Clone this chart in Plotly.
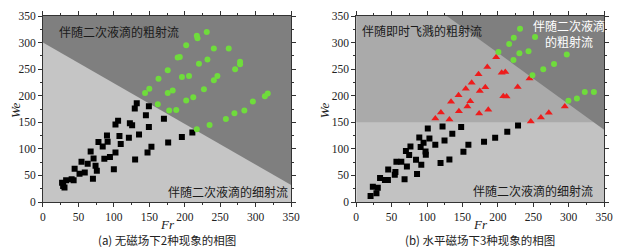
import plotly.graph_objects as go

# ---------------- data ----------------
# (a) no magnetic field
a_fine_fr = [27, 28.5, 30.4, 32.7, 40.5, 43.3, 44.7, 51.6, 54.4, 59, 63.1, 67.3, 70.5, 71.4, 74.2, 76,
             78.3, 84.3, 86.6, 90.3, 91.2, 94.5, 100, 102.3, 102.3, 106, 107.9, 109.7, 121.2, 122.6,
             125.8, 130, 129.5, 132.3, 135.5, 145.2, 147.5, 149.4, 149.4, 153, 170.6, 176.6, 195.9, 210.7]
a_fine_we = [36.3, 30, 27.5, 40.7, 42.6, 40.7, 62.6, 53.2, 75.8, 55.7, 72, 95.2, 43.8, 82, 68.2, 58.8,
             112.7, 104.6, 81.4, 125.2, 113.3, 84.5, 61.4, 93.3, 145.9, 152.8, 124, 109, 120.8, 148.4,
             144.6, 80.1, 175.9, 186, 127.1, 163.4, 93.3, 180.3, 140.9, 103.9, 156.5, 112.1, 122.1, 130.9]
a_coarse_fr = [144, 150, 163, 162, 176, 176, 183, 178, 188, 190, 193, 196, 202, 206, 202, 212, 217, 217,
               218, 220, 227, 231, 232, 235, 241, 246, 241, 258, 262, 270, 271, 278, 278, 284, 296, 313, 317]
a_coarse_we = [205, 213, 232, 184, 248, 205, 210, 172, 173, 272, 273, 235, 295, 237, 191, 197, 137, 313,
               308, 260, 212, 320, 268, 145, 229, 237, 289, 156, 289, 167, 250, 264, 259, 172, 189, 199, 204]

# (b) horizontal magnetic field
b_fine_fr = [20.3, 23.5, 28.6, 30.5, 33.7, 40.6, 44.8, 45.2, 54.5, 55.4, 56.8, 63.7, 68.3, 70.2, 71.6,
             74.8, 76.6, 84.5, 85.9, 89.1, 91, 91.9, 95.1, 97.9, 98.3, 101.1, 103.4, 111.7, 119.1, 121.9,
             124.7, 131.6, 135.7, 148.2, 151.4, 158.4, 180.5, 196.2, 213.3, 228.5]
b_fine_we = [11.3, 28.8, 16.3, 26.9, 45.1, 41.3, 41.3, 61.3, 51.3, 56.3, 75.7, 75.7, 42.6, 95.8, 67,
             88.3, 104.6, 79.5, 52.6, 121.5, 103.3, 70.1, 111.4, 95.2, 88.9, 138.4, 119.6, 107.7, 73.2, 142.1,
             115.8, 80.1, 128.3, 140.9, 94.5, 107.7, 113.3, 120.8, 132.1, 144]
b_splash_fr = [111.7, 119.6, 131.6, 133.9, 145, 144.5, 157, 161.1, 154.7, 163, 172.7, 173.6, 174.5, 182.3,
               185.1, 186.5, 197.6, 205.4, 210.5, 207.7, 212.3, 228, 244.7, 246.5, 260.8, 271.9, 294.5]
b_splash_we = [157.2, 168.4, 155.3, 188.5, 170.9, 201, 179.7, 189.7, 212.9, 224.2, 240.4, 166.5, 209.1, 216,
               254.2, 173.4, 272.4, 243, 244.8, 199.1, 198.5, 216.6, 232.3, 151.5, 159, 167.8, 179.7]
b_coarse_fr = [231.3, 252.5, 222.5, 216, 200.8, 230.4, 243.3, 222, 297.3, 279.3, 264.1, 248.8, 322.7,
               335.6, 311.6, 299.6]
b_coarse_we = [326.2, 310.6, 309.3, 297.4, 282.4, 279.9, 283.6, 267.4, 277.4, 259.8, 249.8, 238.6, 207.2,
               207.2, 194.7, 190.3]

# region boundaries (Fr, We)
a_boundary = [(0, 300), (350, 32)]
b_splash_limit = 150
b_boundary = [(128, 350), (350, 136)]

tick_vals = [0, 50, 100, 150, 200, 250, 300, 350]
tick_text = [str(v) for v in tick_vals]

captions = ["(a) 无磁场下2种现象的相图", "(b) 水平磁场下3种现象的相图"]

# ---------------- figure ----------------
W, H = 634, 252
top_px, bot_px = 16, 202.3
fig = go.Figure()

sq = dict(symbol="square", size=6, color="#000000")
gr = dict(symbol="circle", size=6, color="#6fdc3c")
rt = dict(symbol="triangle-up", size=7, color="#ee1c1c")

fig.add_trace(go.Scatter(x=a_fine_fr, y=a_fine_we, mode="markers", marker=sq, xaxis="x", yaxis="y"))
fig.add_trace(go.Scatter(x=a_coarse_fr, y=a_coarse_we, mode="markers", marker=gr, xaxis="x", yaxis="y"))
fig.add_trace(go.Scatter(x=b_fine_fr, y=b_fine_we, mode="markers", marker=sq, xaxis="x2", yaxis="y2"))
fig.add_trace(go.Scatter(x=b_splash_fr, y=b_splash_we, mode="markers", marker=rt, xaxis="x2", yaxis="y2"))
fig.add_trace(go.Scatter(x=b_coarse_fr, y=b_coarse_we, mode="markers", marker=gr, xaxis="x2", yaxis="y2"))

light_a, dark = "#c5c5c5", "#7f7f7f"
light_b, mid_b = "#c2c2c2", "#aaaaaa"
shapes = [
    dict(type="rect", xref="x", yref="y", x0=0, x1=350, y0=0, y1=350, fillcolor=light_a,
         line_width=0, layer="below"),
    dict(type="path", xref="x", yref="y", layer="below", fillcolor=dark, line_width=0,
         path=f"M {a_boundary[0][0]},{a_boundary[0][1]} L 0,350 L 350,350 L {a_boundary[1][0]},{a_boundary[1][1]} Z"),
    dict(type="rect", xref="x2", yref="y2", x0=0, x1=350, y0=0, y1=350, fillcolor=light_b,
         line_width=0, layer="below"),
    dict(type="rect", xref="x2", yref="y2", x0=0, x1=350, y0=b_splash_limit, y1=350, fillcolor=mid_b,
         line_width=0, layer="below"),
    dict(type="path", xref="x2", yref="y2", layer="below", fillcolor=dark, line_width=0,
         path=f"M {b_boundary[0][0]},{b_boundary[0][1]} L 350,350 L {b_boundary[1][0]},{b_boundary[1][1]} Z"),
]

tickfont = dict(family="Liberation Serif", size=11.5, color="#222")
axis_common = dict(range=[0, 350], tickvals=tick_vals, ticktext=tick_text, ticks="outside", ticklen=4,
                   tickcolor="#333", showline=True, linecolor="#333", linewidth=1, mirror="ticks",
                   showgrid=False, zeroline=False, tickfont=tickfont,
                   minor=dict(ticks="outside", ticklen=2, dtick=25, tick0=0, tickcolor="#333"),
                   fixedrange=True)

xa = (40.7 / W, 293.7 / W)
xb = (360.0 / W, 612.7 / W)

cjk = "Noto Sans CJK SC"
ann = []
def py(px):
    return (bot_px - px) / (bot_px - top_px)

for (dom, ref, cap, yx) in [(xa, "x", captions[0], 13.5), (xb, "x2", captions[1], 328.5)]:
    cx = (dom[0] + dom[1]) / 2
    ann.append(dict(xref="paper", yref="paper", x=cx, y=py(225), text="<i>Fr</i>", showarrow=False,
                    font=dict(family="Liberation Serif", size=13, color="#222"), xanchor="center", yanchor="middle"))
    ann.append(dict(xref="paper", yref="paper", x=cx, y=py(240), text=cap, showarrow=False,
                    font=dict(family=cjk, size=11.5, color="#222"), xanchor="center", yanchor="middle"))
    ann.append(dict(xref="paper", yref="paper", x=yx / W, y=py(110), text="<i>We</i>", showarrow=False,
                    textangle=-90, font=dict(family="Liberation Serif", size=13, color="#222"),
                    xanchor="center", yanchor="middle"))

lab = dict(family=cjk, size=12, color="#1a1a1a")
ann += [
    dict(xref="x", yref="y", x=20, y=320, text="伴随二次液滴的粗射流", showarrow=False, font=lab,
         xanchor="left", yanchor="middle"),
    dict(xref="x", yref="y", x=348, y=20, text="伴随二次液滴的细射流", showarrow=False, font=lab,
         xanchor="right", yanchor="middle"),
    dict(xref="x2", yref="y2", x=6, y=323, text="伴随即时飞溅的粗射流", showarrow=False, font=lab,
         xanchor="left", yanchor="middle"),
    dict(xref="x2", yref="y2", x=301, y=318, text="伴随二次液滴<br>的粗射流", showarrow=False,
         font=dict(family=cjk, size=12, color="#ffffff"), xanchor="center", yanchor="middle"),
    dict(xref="x2", yref="y2", x=250, y=21, text="伴随二次液滴的细射流", showarrow=False, font=lab,
         xanchor="center", yanchor="middle"),
]

fig.update_layout(
    width=W, height=H,
    margin=dict(l=0, r=0, t=top_px, b=H - bot_px),
    paper_bgcolor="white", plot_bgcolor="white",
    showlegend=False, hovermode=False,
    xaxis=dict(domain=list(xa), anchor="y", **axis_common),
    yaxis=dict(domain=[0, 1], anchor="x", **axis_common),
    xaxis2=dict(domain=list(xb), anchor="y2", **axis_common),
    yaxis2=dict(domain=[0, 1], anchor="x2", **axis_common),
    shapes=shapes, annotations=ann,
)

fig.write_html("out.html", config={"displayModeBar": False},
               post_script="document.body.style.margin='0';document.body.style.overflow='hidden';")
